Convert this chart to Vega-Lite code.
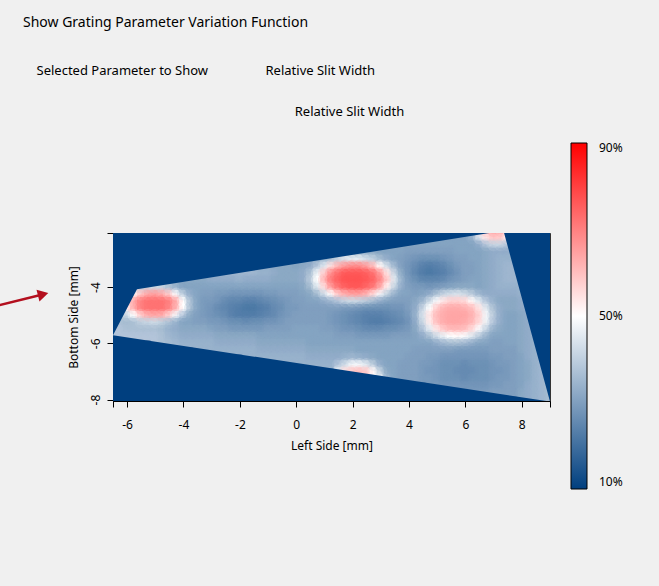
{
"$schema":"https://vega.github.io/schema/vega-lite/v6.json",
"width":437,"height":168,
"autosize":"none",
"padding":{"left":113,"top":233,"right":109,"bottom":185},
"background":"#f0f0f0",
"view":{"fill":"#003f7f","stroke":"#333333","strokeWidth":1},
"title":{"text":"Show Grating Parameter Variation Function","subtitle":"\u200b\u00a0\u00a0\u00a0\u00a0Selected Parameter to Show\u00a0\u00a0\u00a0\u00a0\u00a0\u00a0\u00a0\u00a0\u00a0\u00a0\u00a0\u00a0\u00a0\u00a0\u00a0\u00a0\u00a0Relative Slit Width","anchor":"start","frame":"group","dx":-90,"offset":27,"font":"Noto Sans","fontSize":14,"fontWeight":"normal","color":"#000000","subtitleFont":"Noto Sans","subtitleFontSize":13,"subtitleColor":"#000000","subtitlePadding":35},
"datasets":{
"grid":[
{"x":-6.5,"y":-5.5,"v":38},{"x":-6.5,"y":-5.75,"v":38},
{"x":-6.25,"y":-5,"v":37},{"x":-6.25,"y":-5.25,"v":37},{"x":-6.25,"y":-5.5,"v":38},{"x":-6.25,"y":-5.75,"v":38},
{"x":-6,"y":-4.5,"v":52},{"x":-6,"y":-4.75,"v":52},{"x":-6,"y":-5,"v":42},{"x":-6,"y":-5.25,"v":36},{"x":-6,"y":-5.5,"v":37},{"x":-6,"y":-5.75,"v":38},
{"x":-5.75,"y":-4,"v":37},{"x":-5.75,"y":-4.25,"v":51},{"x":-5.75,"y":-4.5,"v":64},{"x":-5.75,"y":-4.75,"v":63},{"x":-5.75,"y":-5,"v":50},{"x":-5.75,"y":-5.25,"v":37},{"x":-5.75,"y":-5.5,"v":37},{"x":-5.75,"y":-5.75,"v":38},
{"x":-5.5,"y":-4,"v":39},{"x":-5.5,"y":-4.25,"v":59},{"x":-5.5,"y":-4.5,"v":70},{"x":-5.5,"y":-4.75,"v":70},{"x":-5.5,"y":-5,"v":58},{"x":-5.5,"y":-5.25,"v":40},{"x":-5.5,"y":-5.5,"v":37},{"x":-5.5,"y":-5.75,"v":38},
{"x":-5.25,"y":-4,"v":41},{"x":-5.25,"y":-4.25,"v":64},{"x":-5.25,"y":-4.5,"v":72},{"x":-5.25,"y":-4.75,"v":72},{"x":-5.25,"y":-5,"v":63},{"x":-5.25,"y":-5.25,"v":41},{"x":-5.25,"y":-5.5,"v":37},{"x":-5.25,"y":-5.75,"v":38},
{"x":-5,"y":-4,"v":42},{"x":-5,"y":-4.25,"v":65},{"x":-5,"y":-4.5,"v":72},{"x":-5,"y":-4.75,"v":72},{"x":-5,"y":-5,"v":64},{"x":-5,"y":-5.25,"v":42},{"x":-5,"y":-5.5,"v":37},{"x":-5,"y":-5.75,"v":38},{"x":-5,"y":-6,"v":38},
{"x":-4.75,"y":-4,"v":41},{"x":-4.75,"y":-4.25,"v":63},{"x":-4.75,"y":-4.5,"v":72},{"x":-4.75,"y":-4.75,"v":72},{"x":-4.75,"y":-5,"v":63},{"x":-4.75,"y":-5.25,"v":40},{"x":-4.75,"y":-5.5,"v":36},{"x":-4.75,"y":-5.75,"v":37},{"x":-4.75,"y":-6,"v":37},
{"x":-4.5,"y":-4,"v":37},{"x":-4.5,"y":-4.25,"v":58},{"x":-4.5,"y":-4.5,"v":70},{"x":-4.5,"y":-4.75,"v":69},{"x":-4.5,"y":-5,"v":57},{"x":-4.5,"y":-5.25,"v":37},{"x":-4.5,"y":-5.5,"v":34},{"x":-4.5,"y":-5.75,"v":35},{"x":-4.5,"y":-6,"v":36},
{"x":-4.25,"y":-3.75,"v":32},{"x":-4.25,"y":-4,"v":34},{"x":-4.25,"y":-4.25,"v":49},{"x":-4.25,"y":-4.5,"v":63},{"x":-4.25,"y":-4.75,"v":62},{"x":-4.25,"y":-5,"v":48},{"x":-4.25,"y":-5.25,"v":34},{"x":-4.25,"y":-5.5,"v":33},{"x":-4.25,"y":-5.75,"v":34},{"x":-4.25,"y":-6,"v":35},
{"x":-4,"y":-3.75,"v":31},{"x":-4,"y":-4,"v":31},{"x":-4,"y":-4.25,"v":39},{"x":-4,"y":-4.5,"v":50},{"x":-4,"y":-4.75,"v":50},{"x":-4,"y":-5,"v":38},{"x":-4,"y":-5.25,"v":31},{"x":-4,"y":-5.5,"v":32},{"x":-4,"y":-5.75,"v":33},{"x":-4,"y":-6,"v":34},
{"x":-3.75,"y":-3.75,"v":32},{"x":-3.75,"y":-4,"v":31},{"x":-3.75,"y":-4.25,"v":33},{"x":-3.75,"y":-4.5,"v":37},{"x":-3.75,"y":-4.75,"v":37},{"x":-3.75,"y":-5,"v":32},{"x":-3.75,"y":-5.25,"v":31},{"x":-3.75,"y":-5.5,"v":32},{"x":-3.75,"y":-5.75,"v":33},{"x":-3.75,"y":-6,"v":34},
{"x":-3.5,"y":-3.75,"v":32},{"x":-3.5,"y":-4,"v":31},{"x":-3.5,"y":-4.25,"v":31},{"x":-3.5,"y":-4.5,"v":31},{"x":-3.5,"y":-4.75,"v":31},{"x":-3.5,"y":-5,"v":30},{"x":-3.5,"y":-5.25,"v":30},{"x":-3.5,"y":-5.5,"v":32},{"x":-3.5,"y":-5.75,"v":33},{"x":-3.5,"y":-6,"v":34},{"x":-3.5,"y":-6.25,"v":34},
{"x":-3.25,"y":-3.75,"v":32},{"x":-3.25,"y":-4,"v":31},{"x":-3.25,"y":-4.25,"v":30},{"x":-3.25,"y":-4.5,"v":29},{"x":-3.25,"y":-4.75,"v":29},{"x":-3.25,"y":-5,"v":29},{"x":-3.25,"y":-5.25,"v":30},{"x":-3.25,"y":-5.5,"v":32},{"x":-3.25,"y":-5.75,"v":33},{"x":-3.25,"y":-6,"v":34},{"x":-3.25,"y":-6.25,"v":34},
{"x":-3,"y":-3.75,"v":33},{"x":-3,"y":-4,"v":31},{"x":-3,"y":-4.25,"v":30},{"x":-3,"y":-4.5,"v":29},{"x":-3,"y":-4.75,"v":28},{"x":-3,"y":-5,"v":28},{"x":-3,"y":-5.25,"v":29},{"x":-3,"y":-5.5,"v":31},{"x":-3,"y":-5.75,"v":33},{"x":-3,"y":-6,"v":34},{"x":-3,"y":-6.25,"v":34},
{"x":-2.75,"y":-3.5,"v":34},{"x":-2.75,"y":-3.75,"v":33},{"x":-2.75,"y":-4,"v":31},{"x":-2.75,"y":-4.25,"v":29},{"x":-2.75,"y":-4.5,"v":28},{"x":-2.75,"y":-4.75,"v":26},{"x":-2.75,"y":-5,"v":27},{"x":-2.75,"y":-5.25,"v":29},{"x":-2.75,"y":-5.5,"v":30},{"x":-2.75,"y":-5.75,"v":32},{"x":-2.75,"y":-6,"v":33},{"x":-2.75,"y":-6.25,"v":34},
{"x":-2.5,"y":-3.5,"v":35},{"x":-2.5,"y":-3.75,"v":33},{"x":-2.5,"y":-4,"v":31},{"x":-2.5,"y":-4.25,"v":29},{"x":-2.5,"y":-4.5,"v":26},{"x":-2.5,"y":-4.75,"v":25},{"x":-2.5,"y":-5,"v":26},{"x":-2.5,"y":-5.25,"v":28},{"x":-2.5,"y":-5.5,"v":30},{"x":-2.5,"y":-5.75,"v":32},{"x":-2.5,"y":-6,"v":33},{"x":-2.5,"y":-6.25,"v":34},
{"x":-2.25,"y":-3.5,"v":35},{"x":-2.25,"y":-3.75,"v":33},{"x":-2.25,"y":-4,"v":31},{"x":-2.25,"y":-4.25,"v":28},{"x":-2.25,"y":-4.5,"v":25},{"x":-2.25,"y":-4.75,"v":24},{"x":-2.25,"y":-5,"v":24},{"x":-2.25,"y":-5.25,"v":27},{"x":-2.25,"y":-5.5,"v":29},{"x":-2.25,"y":-5.75,"v":32},{"x":-2.25,"y":-6,"v":33},{"x":-2.25,"y":-6.25,"v":34},
{"x":-2,"y":-3.5,"v":35},{"x":-2,"y":-3.75,"v":34},{"x":-2,"y":-4,"v":31},{"x":-2,"y":-4.25,"v":28},{"x":-2,"y":-4.5,"v":25},{"x":-2,"y":-4.75,"v":23},{"x":-2,"y":-5,"v":23},{"x":-2,"y":-5.25,"v":27},{"x":-2,"y":-5.5,"v":29},{"x":-2,"y":-5.75,"v":32},{"x":-2,"y":-6,"v":33},{"x":-2,"y":-6.25,"v":34},
{"x":-1.75,"y":-3.5,"v":35},{"x":-1.75,"y":-3.75,"v":33},{"x":-1.75,"y":-4,"v":31},{"x":-1.75,"y":-4.25,"v":28},{"x":-1.75,"y":-4.5,"v":24},{"x":-1.75,"y":-4.75,"v":22},{"x":-1.75,"y":-5,"v":23},{"x":-1.75,"y":-5.25,"v":26},{"x":-1.75,"y":-5.5,"v":29},{"x":-1.75,"y":-5.75,"v":32},{"x":-1.75,"y":-6,"v":33},{"x":-1.75,"y":-6.25,"v":34},{"x":-1.75,"y":-6.5,"v":34},
{"x":-1.5,"y":-3.5,"v":35},{"x":-1.5,"y":-3.75,"v":33},{"x":-1.5,"y":-4,"v":31},{"x":-1.5,"y":-4.25,"v":28},{"x":-1.5,"y":-4.5,"v":24},{"x":-1.5,"y":-4.75,"v":22},{"x":-1.5,"y":-5,"v":23},{"x":-1.5,"y":-5.25,"v":27},{"x":-1.5,"y":-5.5,"v":29},{"x":-1.5,"y":-5.75,"v":32},{"x":-1.5,"y":-6,"v":33},{"x":-1.5,"y":-6.25,"v":34},{"x":-1.5,"y":-6.5,"v":34},
{"x":-1.25,"y":-3.25,"v":33},{"x":-1.25,"y":-3.5,"v":34},{"x":-1.25,"y":-3.75,"v":33},{"x":-1.25,"y":-4,"v":31},{"x":-1.25,"y":-4.25,"v":28},{"x":-1.25,"y":-4.5,"v":25},{"x":-1.25,"y":-4.75,"v":23},{"x":-1.25,"y":-5,"v":24},{"x":-1.25,"y":-5.25,"v":27},{"x":-1.25,"y":-5.5,"v":29},{"x":-1.25,"y":-5.75,"v":31},{"x":-1.25,"y":-6,"v":32},{"x":-1.25,"y":-6.25,"v":33},{"x":-1.25,"y":-6.5,"v":34},
{"x":-1,"y":-3.25,"v":33},{"x":-1,"y":-3.5,"v":34},{"x":-1,"y":-3.75,"v":33},{"x":-1,"y":-4,"v":31},{"x":-1,"y":-4.25,"v":29},{"x":-1,"y":-4.5,"v":26},{"x":-1,"y":-4.75,"v":24},{"x":-1,"y":-5,"v":25},{"x":-1,"y":-5.25,"v":28},{"x":-1,"y":-5.5,"v":30},{"x":-1,"y":-5.75,"v":31},{"x":-1,"y":-6,"v":32},{"x":-1,"y":-6.25,"v":33},{"x":-1,"y":-6.5,"v":34},
{"x":-0.75,"y":-3.25,"v":32},{"x":-0.75,"y":-3.5,"v":33},{"x":-0.75,"y":-3.75,"v":32},{"x":-0.75,"y":-4,"v":31},{"x":-0.75,"y":-4.25,"v":29},{"x":-0.75,"y":-4.5,"v":27},{"x":-0.75,"y":-4.75,"v":26},{"x":-0.75,"y":-5,"v":26},{"x":-0.75,"y":-5.25,"v":28},{"x":-0.75,"y":-5.5,"v":30},{"x":-0.75,"y":-5.75,"v":31},{"x":-0.75,"y":-6,"v":32},{"x":-0.75,"y":-6.25,"v":33},{"x":-0.75,"y":-6.5,"v":34},
{"x":-0.5,"y":-3.25,"v":32},{"x":-0.5,"y":-3.5,"v":32},{"x":-0.5,"y":-3.75,"v":32},{"x":-0.5,"y":-4,"v":31},{"x":-0.5,"y":-4.25,"v":30},{"x":-0.5,"y":-4.5,"v":28},{"x":-0.5,"y":-4.75,"v":27},{"x":-0.5,"y":-5,"v":28},{"x":-0.5,"y":-5.25,"v":29},{"x":-0.5,"y":-5.5,"v":30},{"x":-0.5,"y":-5.75,"v":31},{"x":-0.5,"y":-6,"v":32},{"x":-0.5,"y":-6.25,"v":33},{"x":-0.5,"y":-6.5,"v":34},
{"x":-0.25,"y":-3.25,"v":32},{"x":-0.25,"y":-3.5,"v":32},{"x":-0.25,"y":-3.75,"v":32},{"x":-0.25,"y":-4,"v":31},{"x":-0.25,"y":-4.25,"v":30},{"x":-0.25,"y":-4.5,"v":29},{"x":-0.25,"y":-4.75,"v":29},{"x":-0.25,"y":-5,"v":29},{"x":-0.25,"y":-5.25,"v":30},{"x":-0.25,"y":-5.5,"v":30},{"x":-0.25,"y":-5.75,"v":31},{"x":-0.25,"y":-6,"v":32},{"x":-0.25,"y":-6.25,"v":33},{"x":-0.25,"y":-6.5,"v":34},{"x":-0.25,"y":-6.75,"v":34},
{"x":0,"y":-3.25,"v":31},{"x":0,"y":-3.5,"v":32},{"x":0,"y":-3.75,"v":32},{"x":0,"y":-4,"v":31},{"x":0,"y":-4.25,"v":30},{"x":0,"y":-4.5,"v":30},{"x":0,"y":-4.75,"v":29},{"x":0,"y":-5,"v":30},{"x":0,"y":-5.25,"v":30},{"x":0,"y":-5.5,"v":31},{"x":0,"y":-5.75,"v":31},{"x":0,"y":-6,"v":32},{"x":0,"y":-6.25,"v":33},{"x":0,"y":-6.5,"v":34},{"x":0,"y":-6.75,"v":34},
{"x":0.25,"y":-3,"v":31},{"x":0.25,"y":-3.25,"v":32},{"x":0.25,"y":-3.5,"v":33},{"x":0.25,"y":-3.75,"v":33},{"x":0.25,"y":-4,"v":32},{"x":0.25,"y":-4.25,"v":31},{"x":0.25,"y":-4.5,"v":30},{"x":0.25,"y":-4.75,"v":30},{"x":0.25,"y":-5,"v":30},{"x":0.25,"y":-5.25,"v":30},{"x":0.25,"y":-5.5,"v":31},{"x":0.25,"y":-5.75,"v":31},{"x":0.25,"y":-6,"v":32},{"x":0.25,"y":-6.25,"v":33},{"x":0.25,"y":-6.5,"v":34},{"x":0.25,"y":-6.75,"v":34},
{"x":0.5,"y":-3,"v":31},{"x":0.5,"y":-3.25,"v":33},{"x":0.5,"y":-3.5,"v":37},{"x":0.5,"y":-3.75,"v":39},{"x":0.5,"y":-4,"v":36},{"x":0.5,"y":-4.25,"v":32},{"x":0.5,"y":-4.5,"v":31},{"x":0.5,"y":-4.75,"v":30},{"x":0.5,"y":-5,"v":30},{"x":0.5,"y":-5.25,"v":30},{"x":0.5,"y":-5.5,"v":31},{"x":0.5,"y":-5.75,"v":31},{"x":0.5,"y":-6,"v":31},{"x":0.5,"y":-6.25,"v":32},{"x":0.5,"y":-6.5,"v":33},{"x":0.5,"y":-6.75,"v":34},
{"x":0.75,"y":-3,"v":32},{"x":0.75,"y":-3.25,"v":38},{"x":0.75,"y":-3.5,"v":47},{"x":0.75,"y":-3.75,"v":50},{"x":0.75,"y":-4,"v":45},{"x":0.75,"y":-4.25,"v":36},{"x":0.75,"y":-4.5,"v":31},{"x":0.75,"y":-4.75,"v":30},{"x":0.75,"y":-5,"v":30},{"x":0.75,"y":-5.25,"v":30},{"x":0.75,"y":-5.5,"v":31},{"x":0.75,"y":-5.75,"v":31},{"x":0.75,"y":-6,"v":31},{"x":0.75,"y":-6.25,"v":32},{"x":0.75,"y":-6.5,"v":33},{"x":0.75,"y":-6.75,"v":34},
{"x":1,"y":-3,"v":34},{"x":1,"y":-3.25,"v":45},{"x":1,"y":-3.5,"v":58},{"x":1,"y":-3.75,"v":62},{"x":1,"y":-4,"v":56},{"x":1,"y":-4.25,"v":43},{"x":1,"y":-4.5,"v":33},{"x":1,"y":-4.75,"v":30},{"x":1,"y":-5,"v":30},{"x":1,"y":-5.25,"v":30},{"x":1,"y":-5.5,"v":30},{"x":1,"y":-5.75,"v":31},{"x":1,"y":-6,"v":31},{"x":1,"y":-6.25,"v":32},{"x":1,"y":-6.5,"v":33},{"x":1,"y":-6.75,"v":34},
{"x":1.25,"y":-3,"v":37},{"x":1.25,"y":-3.25,"v":55},{"x":1.25,"y":-3.5,"v":68},{"x":1.25,"y":-3.75,"v":71},{"x":1.25,"y":-4,"v":66},{"x":1.25,"y":-4.25,"v":51},{"x":1.25,"y":-4.5,"v":35},{"x":1.25,"y":-4.75,"v":30},{"x":1.25,"y":-5,"v":29},{"x":1.25,"y":-5.25,"v":29},{"x":1.25,"y":-5.5,"v":30},{"x":1.25,"y":-5.75,"v":31},{"x":1.25,"y":-6,"v":31},{"x":1.25,"y":-6.25,"v":32},{"x":1.25,"y":-6.5,"v":33},{"x":1.25,"y":-6.75,"v":34},
{"x":1.5,"y":-3,"v":41},{"x":1.5,"y":-3.25,"v":62},{"x":1.5,"y":-3.5,"v":73},{"x":1.5,"y":-3.75,"v":75},{"x":1.5,"y":-4,"v":72},{"x":1.5,"y":-4.25,"v":59},{"x":1.5,"y":-4.5,"v":38},{"x":1.5,"y":-4.75,"v":30},{"x":1.5,"y":-5,"v":28},{"x":1.5,"y":-5.25,"v":28},{"x":1.5,"y":-5.5,"v":29},{"x":1.5,"y":-5.75,"v":30},{"x":1.5,"y":-6,"v":31},{"x":1.5,"y":-6.25,"v":32},{"x":1.5,"y":-6.5,"v":33},{"x":1.5,"y":-6.75,"v":38},{"x":1.5,"y":-7,"v":46},
{"x":1.75,"y":-3,"v":44},{"x":1.75,"y":-3.25,"v":66},{"x":1.75,"y":-3.5,"v":76},{"x":1.75,"y":-3.75,"v":77},{"x":1.75,"y":-4,"v":75},{"x":1.75,"y":-4.25,"v":63},{"x":1.75,"y":-4.5,"v":41},{"x":1.75,"y":-4.75,"v":29},{"x":1.75,"y":-5,"v":27},{"x":1.75,"y":-5.25,"v":27},{"x":1.75,"y":-5.5,"v":28},{"x":1.75,"y":-5.75,"v":30},{"x":1.75,"y":-6,"v":31},{"x":1.75,"y":-6.25,"v":32},{"x":1.75,"y":-6.5,"v":34},{"x":1.75,"y":-6.75,"v":43},{"x":1.75,"y":-7,"v":55},
{"x":2,"y":-2.75,"v":32},{"x":2,"y":-3,"v":46},{"x":2,"y":-3.25,"v":68},{"x":2,"y":-3.5,"v":76},{"x":2,"y":-3.75,"v":77},{"x":2,"y":-4,"v":76},{"x":2,"y":-4.25,"v":65},{"x":2,"y":-4.5,"v":42},{"x":2,"y":-4.75,"v":29},{"x":2,"y":-5,"v":26},{"x":2,"y":-5.25,"v":26},{"x":2,"y":-5.5,"v":28},{"x":2,"y":-5.75,"v":30},{"x":2,"y":-6,"v":31},{"x":2,"y":-6.25,"v":32},{"x":2,"y":-6.5,"v":35},{"x":2,"y":-6.75,"v":48},{"x":2,"y":-7,"v":59},
{"x":2.25,"y":-2.75,"v":32},{"x":2.25,"y":-3,"v":46},{"x":2.25,"y":-3.25,"v":68},{"x":2.25,"y":-3.5,"v":76},{"x":2.25,"y":-3.75,"v":77},{"x":2.25,"y":-4,"v":76},{"x":2.25,"y":-4.25,"v":65},{"x":2.25,"y":-4.5,"v":41},{"x":2.25,"y":-4.75,"v":28},{"x":2.25,"y":-5,"v":25},{"x":2.25,"y":-5.25,"v":25},{"x":2.25,"y":-5.5,"v":27},{"x":2.25,"y":-5.75,"v":29},{"x":2.25,"y":-6,"v":31},{"x":2.25,"y":-6.25,"v":31},{"x":2.25,"y":-6.5,"v":34},{"x":2.25,"y":-6.75,"v":48},{"x":2.25,"y":-7,"v":60},
{"x":2.5,"y":-2.75,"v":32},{"x":2.5,"y":-3,"v":43},{"x":2.5,"y":-3.25,"v":65},{"x":2.5,"y":-3.5,"v":75},{"x":2.5,"y":-3.75,"v":76},{"x":2.5,"y":-4,"v":74},{"x":2.5,"y":-4.25,"v":62},{"x":2.5,"y":-4.5,"v":39},{"x":2.5,"y":-4.75,"v":27},{"x":2.5,"y":-5,"v":24},{"x":2.5,"y":-5.25,"v":24},{"x":2.5,"y":-5.5,"v":26},{"x":2.5,"y":-5.75,"v":29},{"x":2.5,"y":-6,"v":31},{"x":2.5,"y":-6.25,"v":31},{"x":2.5,"y":-6.5,"v":33},{"x":2.5,"y":-6.75,"v":45},{"x":2.5,"y":-7,"v":58},
{"x":2.75,"y":-2.75,"v":32},{"x":2.75,"y":-3,"v":40},{"x":2.75,"y":-3.25,"v":60},{"x":2.75,"y":-3.5,"v":72},{"x":2.75,"y":-3.75,"v":74},{"x":2.75,"y":-4,"v":71},{"x":2.75,"y":-4.25,"v":56},{"x":2.75,"y":-4.5,"v":36},{"x":2.75,"y":-4.75,"v":27},{"x":2.75,"y":-5,"v":24},{"x":2.75,"y":-5.25,"v":23},{"x":2.75,"y":-5.5,"v":26},{"x":2.75,"y":-5.75,"v":29},{"x":2.75,"y":-6,"v":31},{"x":2.75,"y":-6.25,"v":31},{"x":2.75,"y":-6.5,"v":32},{"x":2.75,"y":-6.75,"v":39},{"x":2.75,"y":-7,"v":51},
{"x":3,"y":-2.75,"v":31},{"x":3,"y":-3,"v":36},{"x":3,"y":-3.25,"v":51},{"x":3,"y":-3.5,"v":65},{"x":3,"y":-3.75,"v":68},{"x":3,"y":-4,"v":63},{"x":3,"y":-4.25,"v":48},{"x":3,"y":-4.5,"v":33},{"x":3,"y":-4.75,"v":27},{"x":3,"y":-5,"v":24},{"x":3,"y":-5.25,"v":23},{"x":3,"y":-5.5,"v":26},{"x":3,"y":-5.75,"v":29},{"x":3,"y":-6,"v":31},{"x":3,"y":-6.25,"v":31},{"x":3,"y":-6.5,"v":31},{"x":3,"y":-6.75,"v":33},{"x":3,"y":-7,"v":40},{"x":3,"y":-7.25,"v":46},
{"x":3.25,"y":-2.75,"v":31},{"x":3.25,"y":-3,"v":33},{"x":3.25,"y":-3.25,"v":42},{"x":3.25,"y":-3.5,"v":54},{"x":3.25,"y":-3.75,"v":58},{"x":3.25,"y":-4,"v":52},{"x":3.25,"y":-4.25,"v":40},{"x":3.25,"y":-4.5,"v":31},{"x":3.25,"y":-4.75,"v":27},{"x":3.25,"y":-5,"v":25},{"x":3.25,"y":-5.25,"v":24},{"x":3.25,"y":-5.5,"v":27},{"x":3.25,"y":-5.75,"v":29},{"x":3.25,"y":-6,"v":31},{"x":3.25,"y":-6.25,"v":31},{"x":3.25,"y":-6.5,"v":31},{"x":3.25,"y":-6.75,"v":31},{"x":3.25,"y":-7,"v":32},{"x":3.25,"y":-7.25,"v":34},
{"x":3.5,"y":-2.5,"v":31},{"x":3.5,"y":-2.75,"v":31},{"x":3.5,"y":-3,"v":31},{"x":3.5,"y":-3.25,"v":35},{"x":3.5,"y":-3.5,"v":41},{"x":3.5,"y":-3.75,"v":45},{"x":3.5,"y":-4,"v":41},{"x":3.5,"y":-4.25,"v":34},{"x":3.5,"y":-4.5,"v":30},{"x":3.5,"y":-4.75,"v":28},{"x":3.5,"y":-5,"v":26},{"x":3.5,"y":-5.25,"v":25},{"x":3.5,"y":-5.5,"v":27},{"x":3.5,"y":-5.75,"v":30},{"x":3.5,"y":-6,"v":31},{"x":3.5,"y":-6.25,"v":31},{"x":3.5,"y":-6.5,"v":31},{"x":3.5,"y":-6.75,"v":31},{"x":3.5,"y":-7,"v":31},{"x":3.5,"y":-7.25,"v":31},
{"x":3.75,"y":-2.5,"v":31},{"x":3.75,"y":-2.75,"v":31},{"x":3.75,"y":-3,"v":30},{"x":3.75,"y":-3.25,"v":30},{"x":3.75,"y":-3.5,"v":32},{"x":3.75,"y":-3.75,"v":34},{"x":3.75,"y":-4,"v":33},{"x":3.75,"y":-4.25,"v":31},{"x":3.75,"y":-4.5,"v":30},{"x":3.75,"y":-4.75,"v":28},{"x":3.75,"y":-5,"v":27},{"x":3.75,"y":-5.25,"v":26},{"x":3.75,"y":-5.5,"v":28},{"x":3.75,"y":-5.75,"v":30},{"x":3.75,"y":-6,"v":31},{"x":3.75,"y":-6.25,"v":31},{"x":3.75,"y":-6.5,"v":31},{"x":3.75,"y":-6.75,"v":30},{"x":3.75,"y":-7,"v":30},{"x":3.75,"y":-7.25,"v":30},
{"x":4,"y":-2.5,"v":31},{"x":4,"y":-2.75,"v":30},{"x":4,"y":-3,"v":29},{"x":4,"y":-3.25,"v":28},{"x":4,"y":-3.5,"v":28},{"x":4,"y":-3.75,"v":29},{"x":4,"y":-4,"v":30},{"x":4,"y":-4.25,"v":31},{"x":4,"y":-4.5,"v":30},{"x":4,"y":-4.75,"v":30},{"x":4,"y":-5,"v":29},{"x":4,"y":-5.25,"v":28},{"x":4,"y":-5.5,"v":29},{"x":4,"y":-5.75,"v":30},{"x":4,"y":-6,"v":31},{"x":4,"y":-6.25,"v":31},{"x":4,"y":-6.5,"v":30},{"x":4,"y":-6.75,"v":30},{"x":4,"y":-7,"v":30},{"x":4,"y":-7.25,"v":30},
{"x":4.25,"y":-2.5,"v":31},{"x":4.25,"y":-2.75,"v":30},{"x":4.25,"y":-3,"v":28},{"x":4.25,"y":-3.25,"v":26},{"x":4.25,"y":-3.5,"v":25},{"x":4.25,"y":-3.75,"v":27},{"x":4.25,"y":-4,"v":29},{"x":4.25,"y":-4.25,"v":30},{"x":4.25,"y":-4.5,"v":32},{"x":4.25,"y":-4.75,"v":33},{"x":4.25,"y":-5,"v":34},{"x":4.25,"y":-5.25,"v":33},{"x":4.25,"y":-5.5,"v":32},{"x":4.25,"y":-5.75,"v":31},{"x":4.25,"y":-6,"v":31},{"x":4.25,"y":-6.25,"v":30},{"x":4.25,"y":-6.5,"v":30},{"x":4.25,"y":-6.75,"v":30},{"x":4.25,"y":-7,"v":30},{"x":4.25,"y":-7.25,"v":30},
{"x":4.5,"y":-2.5,"v":31},{"x":4.5,"y":-2.75,"v":30},{"x":4.5,"y":-3,"v":27},{"x":4.5,"y":-3.25,"v":24},{"x":4.5,"y":-3.5,"v":23},{"x":4.5,"y":-3.75,"v":25},{"x":4.5,"y":-4,"v":29},{"x":4.5,"y":-4.25,"v":31},{"x":4.5,"y":-4.5,"v":35},{"x":4.5,"y":-4.75,"v":41},{"x":4.5,"y":-5,"v":44},{"x":4.5,"y":-5.25,"v":42},{"x":4.5,"y":-5.5,"v":38},{"x":4.5,"y":-5.75,"v":33},{"x":4.5,"y":-6,"v":31},{"x":4.5,"y":-6.25,"v":30},{"x":4.5,"y":-6.5,"v":30},{"x":4.5,"y":-6.75,"v":29},{"x":4.5,"y":-7,"v":29},{"x":4.5,"y":-7.25,"v":29},
{"x":4.75,"y":-2.5,"v":31},{"x":4.75,"y":-2.75,"v":30},{"x":4.75,"y":-3,"v":27},{"x":4.75,"y":-3.25,"v":23},{"x":4.75,"y":-3.5,"v":22},{"x":4.75,"y":-3.75,"v":25},{"x":4.75,"y":-4,"v":28},{"x":4.75,"y":-4.25,"v":33},{"x":4.75,"y":-4.5,"v":42},{"x":4.75,"y":-4.75,"v":50},{"x":4.75,"y":-5,"v":54},{"x":4.75,"y":-5.25,"v":53},{"x":4.75,"y":-5.5,"v":46},{"x":4.75,"y":-5.75,"v":37},{"x":4.75,"y":-6,"v":31},{"x":4.75,"y":-6.25,"v":30},{"x":4.75,"y":-6.5,"v":29},{"x":4.75,"y":-6.75,"v":29},{"x":4.75,"y":-7,"v":28},{"x":4.75,"y":-7.25,"v":29},{"x":4.75,"y":-7.5,"v":29},
{"x":5,"y":-2.25,"v":31},{"x":5,"y":-2.5,"v":31},{"x":5,"y":-2.75,"v":30},{"x":5,"y":-3,"v":27},{"x":5,"y":-3.25,"v":24},{"x":5,"y":-3.5,"v":23},{"x":5,"y":-3.75,"v":25},{"x":5,"y":-4,"v":29},{"x":5,"y":-4.25,"v":37},{"x":5,"y":-4.5,"v":49},{"x":5,"y":-4.75,"v":58},{"x":5,"y":-5,"v":61},{"x":5,"y":-5.25,"v":60},{"x":5,"y":-5.5,"v":54},{"x":5,"y":-5.75,"v":43},{"x":5,"y":-6,"v":33},{"x":5,"y":-6.25,"v":30},{"x":5,"y":-6.5,"v":29},{"x":5,"y":-6.75,"v":28},{"x":5,"y":-7,"v":28},{"x":5,"y":-7.25,"v":28},{"x":5,"y":-7.5,"v":29},
{"x":5.25,"y":-2.25,"v":31},{"x":5.25,"y":-2.5,"v":31},{"x":5.25,"y":-2.75,"v":30},{"x":5.25,"y":-3,"v":28},{"x":5.25,"y":-3.25,"v":25},{"x":5.25,"y":-3.5,"v":24},{"x":5.25,"y":-3.75,"v":26},{"x":5.25,"y":-4,"v":30},{"x":5.25,"y":-4.25,"v":41},{"x":5.25,"y":-4.5,"v":54},{"x":5.25,"y":-4.75,"v":62},{"x":5.25,"y":-5,"v":63},{"x":5.25,"y":-5.25,"v":63},{"x":5.25,"y":-5.5,"v":59},{"x":5.25,"y":-5.75,"v":47},{"x":5.25,"y":-6,"v":35},{"x":5.25,"y":-6.25,"v":30},{"x":5.25,"y":-6.5,"v":28},{"x":5.25,"y":-6.75,"v":27},{"x":5.25,"y":-7,"v":27},{"x":5.25,"y":-7.25,"v":27},{"x":5.25,"y":-7.5,"v":28},
{"x":5.5,"y":-2.25,"v":31},{"x":5.5,"y":-2.5,"v":31},{"x":5.5,"y":-2.75,"v":30},{"x":5.5,"y":-3,"v":29},{"x":5.5,"y":-3.25,"v":27},{"x":5.5,"y":-3.5,"v":26},{"x":5.5,"y":-3.75,"v":28},{"x":5.5,"y":-4,"v":31},{"x":5.5,"y":-4.25,"v":43},{"x":5.5,"y":-4.5,"v":57},{"x":5.5,"y":-4.75,"v":63},{"x":5.5,"y":-5,"v":64},{"x":5.5,"y":-5.25,"v":64},{"x":5.5,"y":-5.5,"v":61},{"x":5.5,"y":-5.75,"v":50},{"x":5.5,"y":-6,"v":36},{"x":5.5,"y":-6.25,"v":30},{"x":5.5,"y":-6.5,"v":28},{"x":5.5,"y":-6.75,"v":27},{"x":5.5,"y":-7,"v":27},{"x":5.5,"y":-7.25,"v":27},{"x":5.5,"y":-7.5,"v":28},
{"x":5.75,"y":-2.25,"v":31},{"x":5.75,"y":-2.5,"v":31},{"x":5.75,"y":-2.75,"v":31},{"x":5.75,"y":-3,"v":30},{"x":5.75,"y":-3.25,"v":29},{"x":5.75,"y":-3.5,"v":28},{"x":5.75,"y":-3.75,"v":29},{"x":5.75,"y":-4,"v":32},{"x":5.75,"y":-4.25,"v":44},{"x":5.75,"y":-4.5,"v":57},{"x":5.75,"y":-4.75,"v":63},{"x":5.75,"y":-5,"v":64},{"x":5.75,"y":-5.25,"v":64},{"x":5.75,"y":-5.5,"v":61},{"x":5.75,"y":-5.75,"v":51},{"x":5.75,"y":-6,"v":36},{"x":5.75,"y":-6.25,"v":29},{"x":5.75,"y":-6.5,"v":28},{"x":5.75,"y":-6.75,"v":27},{"x":5.75,"y":-7,"v":26},{"x":5.75,"y":-7.25,"v":27},{"x":5.75,"y":-7.5,"v":28},
{"x":6,"y":-2.25,"v":31},{"x":6,"y":-2.5,"v":31},{"x":6,"y":-2.75,"v":31},{"x":6,"y":-3,"v":30},{"x":6,"y":-3.25,"v":30},{"x":6,"y":-3.5,"v":30},{"x":6,"y":-3.75,"v":30},{"x":6,"y":-4,"v":32},{"x":6,"y":-4.25,"v":42},{"x":6,"y":-4.5,"v":56},{"x":6,"y":-4.75,"v":62},{"x":6,"y":-5,"v":64},{"x":6,"y":-5.25,"v":63},{"x":6,"y":-5.5,"v":60},{"x":6,"y":-5.75,"v":49},{"x":6,"y":-6,"v":35},{"x":6,"y":-6.25,"v":29},{"x":6,"y":-6.5,"v":28},{"x":6,"y":-6.75,"v":26},{"x":6,"y":-7,"v":26},{"x":6,"y":-7.25,"v":26},{"x":6,"y":-7.5,"v":28},
{"x":6.25,"y":-2.25,"v":34},{"x":6.25,"y":-2.5,"v":31},{"x":6.25,"y":-2.75,"v":31},{"x":6.25,"y":-3,"v":31},{"x":6.25,"y":-3.25,"v":30},{"x":6.25,"y":-3.5,"v":30},{"x":6.25,"y":-3.75,"v":31},{"x":6.25,"y":-4,"v":32},{"x":6.25,"y":-4.25,"v":39},{"x":6.25,"y":-4.5,"v":51},{"x":6.25,"y":-4.75,"v":60},{"x":6.25,"y":-5,"v":62},{"x":6.25,"y":-5.25,"v":61},{"x":6.25,"y":-5.5,"v":56},{"x":6.25,"y":-5.75,"v":45},{"x":6.25,"y":-6,"v":33},{"x":6.25,"y":-6.25,"v":29},{"x":6.25,"y":-6.5,"v":28},{"x":6.25,"y":-6.75,"v":27},{"x":6.25,"y":-7,"v":26},{"x":6.25,"y":-7.25,"v":27},{"x":6.25,"y":-7.5,"v":28},{"x":6.25,"y":-7.75,"v":29},
{"x":6.5,"y":-2,"v":55},{"x":6.5,"y":-2.25,"v":44},{"x":6.5,"y":-2.5,"v":33},{"x":6.5,"y":-2.75,"v":31},{"x":6.5,"y":-3,"v":31},{"x":6.5,"y":-3.25,"v":31},{"x":6.5,"y":-3.5,"v":31},{"x":6.5,"y":-3.75,"v":31},{"x":6.5,"y":-4,"v":31},{"x":6.5,"y":-4.25,"v":35},{"x":6.5,"y":-4.5,"v":45},{"x":6.5,"y":-4.75,"v":54},{"x":6.5,"y":-5,"v":57},{"x":6.5,"y":-5.25,"v":56},{"x":6.5,"y":-5.5,"v":49},{"x":6.5,"y":-5.75,"v":39},{"x":6.5,"y":-6,"v":31},{"x":6.5,"y":-6.25,"v":29},{"x":6.5,"y":-6.5,"v":28},{"x":6.5,"y":-6.75,"v":27},{"x":6.5,"y":-7,"v":27},{"x":6.5,"y":-7.25,"v":27},{"x":6.5,"y":-7.5,"v":28},{"x":6.5,"y":-7.75,"v":29},
{"x":6.75,"y":-2,"v":63},{"x":6.75,"y":-2.25,"v":54},{"x":6.75,"y":-2.5,"v":38},{"x":6.75,"y":-2.75,"v":32},{"x":6.75,"y":-3,"v":32},{"x":6.75,"y":-3.25,"v":32},{"x":6.75,"y":-3.5,"v":32},{"x":6.75,"y":-3.75,"v":32},{"x":6.75,"y":-4,"v":32},{"x":6.75,"y":-4.25,"v":33},{"x":6.75,"y":-4.5,"v":38},{"x":6.75,"y":-4.75,"v":45},{"x":6.75,"y":-5,"v":48},{"x":6.75,"y":-5.25,"v":47},{"x":6.75,"y":-5.5,"v":41},{"x":6.75,"y":-5.75,"v":34},{"x":6.75,"y":-6,"v":31},{"x":6.75,"y":-6.25,"v":29},{"x":6.75,"y":-6.5,"v":28},{"x":6.75,"y":-6.75,"v":27},{"x":6.75,"y":-7,"v":27},{"x":6.75,"y":-7.25,"v":27},{"x":6.75,"y":-7.5,"v":28},{"x":6.75,"y":-7.75,"v":29},
{"x":7,"y":-2,"v":66},{"x":7,"y":-2.25,"v":59},{"x":7,"y":-2.5,"v":41},{"x":7,"y":-2.75,"v":33},{"x":7,"y":-3,"v":33},{"x":7,"y":-3.25,"v":33},{"x":7,"y":-3.5,"v":33},{"x":7,"y":-3.75,"v":33},{"x":7,"y":-4,"v":33},{"x":7,"y":-4.25,"v":33},{"x":7,"y":-4.5,"v":34},{"x":7,"y":-4.75,"v":37},{"x":7,"y":-5,"v":39},{"x":7,"y":-5.25,"v":38},{"x":7,"y":-5.5,"v":34},{"x":7,"y":-5.75,"v":31},{"x":7,"y":-6,"v":30},{"x":7,"y":-6.25,"v":30},{"x":7,"y":-6.5,"v":29},{"x":7,"y":-6.75,"v":28},{"x":7,"y":-7,"v":28},{"x":7,"y":-7.25,"v":28},{"x":7,"y":-7.5,"v":29},{"x":7,"y":-7.75,"v":30},
{"x":7.25,"y":-2,"v":65},{"x":7.25,"y":-2.25,"v":58},{"x":7.25,"y":-2.5,"v":41},{"x":7.25,"y":-2.75,"v":33},{"x":7.25,"y":-3,"v":34},{"x":7.25,"y":-3.25,"v":34},{"x":7.25,"y":-3.5,"v":34},{"x":7.25,"y":-3.75,"v":34},{"x":7.25,"y":-4,"v":34},{"x":7.25,"y":-4.25,"v":33},{"x":7.25,"y":-4.5,"v":32},{"x":7.25,"y":-4.75,"v":33},{"x":7.25,"y":-5,"v":33},{"x":7.25,"y":-5.25,"v":33},{"x":7.25,"y":-5.5,"v":32},{"x":7.25,"y":-5.75,"v":31},{"x":7.25,"y":-6,"v":30},{"x":7.25,"y":-6.25,"v":30},{"x":7.25,"y":-6.5,"v":29},{"x":7.25,"y":-6.75,"v":29},{"x":7.25,"y":-7,"v":28},{"x":7.25,"y":-7.25,"v":29},{"x":7.25,"y":-7.5,"v":29},{"x":7.25,"y":-7.75,"v":30},
{"x":7.5,"y":-2.25,"v":53},{"x":7.5,"y":-2.5,"v":38},{"x":7.5,"y":-2.75,"v":33},{"x":7.5,"y":-3,"v":34},{"x":7.5,"y":-3.25,"v":35},{"x":7.5,"y":-3.5,"v":35},{"x":7.5,"y":-3.75,"v":35},{"x":7.5,"y":-4,"v":34},{"x":7.5,"y":-4.25,"v":33},{"x":7.5,"y":-4.5,"v":32},{"x":7.5,"y":-4.75,"v":32},{"x":7.5,"y":-5,"v":31},{"x":7.5,"y":-5.25,"v":31},{"x":7.5,"y":-5.5,"v":31},{"x":7.5,"y":-5.75,"v":31},{"x":7.5,"y":-6,"v":31},{"x":7.5,"y":-6.25,"v":30},{"x":7.5,"y":-6.5,"v":30},{"x":7.5,"y":-6.75,"v":29},{"x":7.5,"y":-7,"v":29},{"x":7.5,"y":-7.25,"v":29},{"x":7.5,"y":-7.5,"v":30},{"x":7.5,"y":-7.75,"v":30},
{"x":7.75,"y":-3,"v":34},{"x":7.75,"y":-3.25,"v":35},{"x":7.75,"y":-3.5,"v":35},{"x":7.75,"y":-3.75,"v":35},{"x":7.75,"y":-4,"v":34},{"x":7.75,"y":-4.25,"v":33},{"x":7.75,"y":-4.5,"v":32},{"x":7.75,"y":-4.75,"v":32},{"x":7.75,"y":-5,"v":31},{"x":7.75,"y":-5.25,"v":31},{"x":7.75,"y":-5.5,"v":31},{"x":7.75,"y":-5.75,"v":31},{"x":7.75,"y":-6,"v":31},{"x":7.75,"y":-6.25,"v":30},{"x":7.75,"y":-6.5,"v":30},{"x":7.75,"y":-6.75,"v":30},{"x":7.75,"y":-7,"v":30},{"x":7.75,"y":-7.25,"v":30},{"x":7.75,"y":-7.5,"v":30},{"x":7.75,"y":-7.75,"v":30},
{"x":8,"y":-4,"v":34},{"x":8,"y":-4.25,"v":34},{"x":8,"y":-4.5,"v":33},{"x":8,"y":-4.75,"v":33},{"x":8,"y":-5,"v":32},{"x":8,"y":-5.25,"v":32},{"x":8,"y":-5.5,"v":32},{"x":8,"y":-5.75,"v":32},{"x":8,"y":-6,"v":32},{"x":8,"y":-6.25,"v":32},{"x":8,"y":-6.5,"v":31},{"x":8,"y":-6.75,"v":31},{"x":8,"y":-7,"v":31},{"x":8,"y":-7.25,"v":31},{"x":8,"y":-7.5,"v":31},{"x":8,"y":-7.75,"v":32},{"x":8,"y":-8,"v":32},
{"x":8.25,"y":-4.75,"v":33},{"x":8.25,"y":-5,"v":33},{"x":8.25,"y":-5.25,"v":33},{"x":8.25,"y":-5.5,"v":33},{"x":8.25,"y":-5.75,"v":33},{"x":8.25,"y":-6,"v":33},{"x":8.25,"y":-6.25,"v":33},{"x":8.25,"y":-6.5,"v":33},{"x":8.25,"y":-6.75,"v":32},{"x":8.25,"y":-7,"v":32},{"x":8.25,"y":-7.25,"v":32},{"x":8.25,"y":-7.5,"v":33},{"x":8.25,"y":-7.75,"v":33},{"x":8.25,"y":-8,"v":33},
{"x":8.5,"y":-5.75,"v":34},{"x":8.5,"y":-6,"v":34},{"x":8.5,"y":-6.25,"v":34},{"x":8.5,"y":-6.5,"v":34},{"x":8.5,"y":-6.75,"v":34},{"x":8.5,"y":-7,"v":34},{"x":8.5,"y":-7.25,"v":34},{"x":8.5,"y":-7.5,"v":34},{"x":8.5,"y":-7.75,"v":34},{"x":8.5,"y":-8,"v":34},
{"x":8.75,"y":-6.75,"v":35},{"x":8.75,"y":-7,"v":35},{"x":8.75,"y":-7.25,"v":35},{"x":8.75,"y":-7.5,"v":35},{"x":8.75,"y":-7.75,"v":35},{"x":8.75,"y":-8,"v":35},
{"x":9,"y":-7.5,"v":36},{"x":9,"y":-7.75,"v":36},{"x":9,"y":-8,"v":36}
],
"maskTop":[{"x":-6.5,"y":-5.71},{"x":-5.65,"y":-4.08},{"x":7.35,"y":-2.0},{"x":9.0,"y":-8.07}],
"maskBottom":[{"x":-6.5,"y":-5.71},{"x":9.0,"y":-8.07}],
"arrow":[{"x":-10.7,"y":-4.686,"x2":-9.0,"y2":-4.266}],
"arrowHead":[{"x":-8.978,"y":-4.261}]
},
"layer":[
{"data":{"name":"grid"},
 "mark":{"type":"square","size":72,"opacity":1,"filled":true,"strokeWidth":0,"clip":true},
 "encoding":{
  "x":{"field":"x","type":"quantitative","scale":{"domain":[-6.5,9.0],"nice":false,"zero":false},
       "axis":{"orient":"bottom","values":[-6.5,-6,-4,-2,0,2,4,6,8,9],"labelExpr":"(datum.value < -6.25 || datum.value > 8.5) ? '' : (datum.value < 0 ? '-' + abs(datum.value) : '' + datum.value)","tickSize":6,"labelPadding":12,"labelFlush":false,"labelOverlap":false,"title":"Left Side [mm]","titlePadding":10}},
  "y":{"field":"y","type":"quantitative","scale":{"domain":[-8.05,-2.08],"nice":false,"zero":false},
       "axis":{"orient":"left","values":[-8,-6,-4,-2.08],"labelExpr":"datum.value > -3 ? '' : '-' + abs(datum.value)","labelAngle":-90,"labelAlign":"center","labelBaseline":"bottom","tickSize":6,"labelPadding":5,"labelFlush":false,"labelOverlap":false,"title":"Bottom Side [mm]","titlePadding":9}},
  "color":{"field":"v","type":"quantitative","scale":{"domain":[10,50,90],"range":["#003f7f","#ffffff","#ff0000"],"interpolate":"rgb","clamp":true},
       "legend":{"title":null,"orient":"none","legendX":458,"legendY":-90,"direction":"vertical","gradientLength":346,"gradientThickness":16,"values":[10,50,90],"labelExpr":"datum.value + '%'","labelFontSize":12,"labelColor":"#000000","labelOffset":12,"gradientStrokeColor":"#000000","gradientStrokeWidth":1}}
 }},
{"data":{"name":"grid"},
 "mark":{"type":"circle","size":170,"opacity":0.3,"strokeWidth":0,"clip":true},
 "encoding":{
  "x":{"field":"x","type":"quantitative","axis":null},
  "y":{"field":"y","type":"quantitative"},
  "color":{"field":"v","type":"quantitative"}
 }},
{"data":{"name":"maskTop"},
 "mark":{"type":"area","color":"#003f7f","opacity":1,"clip":true},
 "encoding":{
  "x":{"field":"x","type":"quantitative","axis":{"orient":"top","title":"Relative Slit Width","labels":false,"ticks":false,"domain":false,"grid":false,"titleX":236,"titleY":-118,"titleAlign":"center","titleBaseline":"alphabetic","titleFontSize":13}},
  "y":{"field":"y","type":"quantitative"},
  "y2":{"datum":-1.5}
 }},
{"data":{"name":"maskBottom"},
 "mark":{"type":"area","color":"#003f7f","opacity":1,"clip":true},
 "encoding":{
  "x":{"field":"x","type":"quantitative","axis":null},
  "y":{"field":"y","type":"quantitative"},
  "y2":{"datum":-8.6}
 }},
{"data":{"name":"arrow"},
 "mark":{"type":"rule","color":"#b30f1e","strokeWidth":2.5,"clip":false},
 "encoding":{
  "x":{"field":"x","type":"quantitative","axis":null},
  "y":{"field":"y","type":"quantitative"},
  "x2":{"field":"x2"},
  "y2":{"field":"y2"}
 }},
{"data":{"name":"arrowHead"},
 "mark":{"type":"point","shape":"triangle-right","angle":-14,"size":150,"filled":true,"opacity":1,"color":"#b30f1e","clip":false},
 "encoding":{
  "x":{"field":"x","type":"quantitative","axis":null},
  "y":{"field":"y","type":"quantitative"}
 }}
],
"config":{
 "font":"Noto Sans",
 "axis":{"labelFont":"Noto Sans","titleFont":"Noto Sans","labelFontSize":12,"titleFontSize":12,"titleFontWeight":"normal","labelColor":"#000000","titleColor":"#000000","domainColor":"#000000","tickColor":"#000000","grid":false,"domainWidth":1,"tickWidth":1},
 "legend":{"labelFont":"Noto Sans"}
}
}
